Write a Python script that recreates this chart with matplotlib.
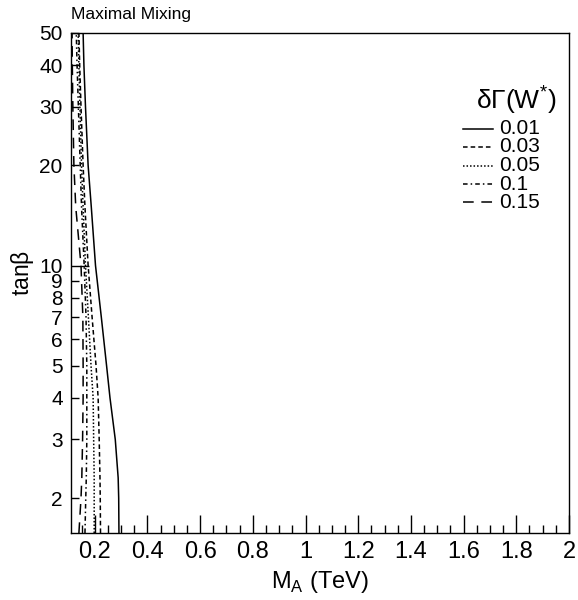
import matplotlib
matplotlib.use("Agg")
import matplotlib.pyplot as plt
from matplotlib.lines import Line2D
from matplotlib.ticker import FixedLocator, FixedFormatter

plt.rcParams['font.family'] = ['Liberation Sans', 'DejaVu Sans']

# tan(beta) grid shared by all contours
tanb = [1.57, 2.0, 2.3, 3.0, 4.0, 5.0, 7.0, 10.0, 15.0, 20.0, 30.0, 40.0, 50.0]

# M_A (TeV) contour positions for each delta Gamma(W*) value
ma_001 = [0.292, 0.291, 0.289, 0.278, 0.258, 0.245, 0.225, 0.203, 0.187, 0.175, 0.165, 0.159, 0.156]
ma_003 = [0.222, 0.221, 0.220, 0.217, 0.213, 0.205, 0.190, 0.175, 0.163, 0.156, 0.148, 0.143, 0.140]
ma_005 = [0.198, 0.198, 0.198, 0.196, 0.194, 0.186, 0.176, 0.165, 0.156, 0.150, 0.144, 0.140, 0.137]
ma_010 = [0.163, 0.166, 0.168, 0.170, 0.170, 0.170, 0.167, 0.160, 0.150, 0.145, 0.138, 0.133, 0.130]
ma_015 = [0.140, 0.148, 0.151, 0.154, 0.156, 0.156, 0.155, 0.148, 0.128, 0.121, 0.117, 0.115, 0.114]

labels = ["0.01", "0.03", "0.05", "0.1", "0.15"]
series = [ma_001, ma_003, ma_005, ma_010, ma_015]
styles = ['-', (0, (3, 2)), (0, (1, 1.3)), (0, (3, 2, 1, 2)), (0, (7, 5))]

xticks = [0.2, 0.4, 0.6, 0.8, 1.0, 1.2, 1.4, 1.6, 1.8, 2.0]
xticklabels = ["0.2", "0.4", "0.6", "0.8", "1", "1.2", "1.4", "1.6", "1.8", "2"]
yticks = [2, 3, 4, 5, 6, 7, 8, 9, 10, 20, 30, 40, 50]
yticklabels = [str(v) for v in yticks]

fig = plt.figure(figsize=(5.78, 6.0), dpi=100)
ax = fig.add_axes([71/578, 1-533/600, (569-71)/578, (533-33)/600])

for ma, ls in zip(series, styles):
    ax.plot(ma, tanb, color='black', lw=1.1, linestyle=ls)

ax.set_xlim(0.11, 2.0)
ax.set_yscale('log')
ax.set_ylim(1.57, 50)

ax.xaxis.set_major_locator(FixedLocator(xticks))
ax.xaxis.set_major_formatter(FixedFormatter(xticklabels))
minors = [0.15 + 0.05*i for i in range(38)]
ax.xaxis.set_minor_locator(FixedLocator([m for m in minors if all(abs(m-t) > 1e-6 for t in xticks)]))

ax.yaxis.set_major_locator(FixedLocator([10]))
ax.yaxis.set_minor_locator(FixedLocator([v for v in yticks if v != 10]))
ax.yaxis.set_major_formatter(FixedFormatter(["10"]))
ax.yaxis.set_minor_formatter(FixedFormatter([v for v in yticklabels if v != "10"]))

ax.tick_params(axis='both', which='both', direction='in', top=False, right=False, width=1)
ax.tick_params(axis='x', which='major', length=13, labelsize=17, pad=6)
ax.tick_params(axis='x', which='minor', length=6)
ax.tick_params(axis='y', which='major', length=13, labelsize=15, pad=6)
ax.tick_params(axis='y', which='minor', length=6, labelsize=15, pad=6)

for sp in ax.spines.values():
    sp.set_linewidth(1.0)

ax.set_xlabel(r"M$_\mathregular{A}$ (TeV)", fontsize=17, labelpad=4)
ax.set_ylabel(r"tan$\mathregular{\beta}$", fontsize=16.5)
ax.yaxis.set_label_coords(-0.07, 0.52)

fig.text(71/578, 1-14/600, "Maximal Mixing", fontsize=12.5, ha='left', va='center')

# legend drawn manually
fig.text(516/578, 1-101/600, r"$\mathregular{\delta\Gamma(W^{*})}$", fontsize=19, ha='center', va='center')
ys = [129, 147, 166, 184, 202]
for lab, ls, y in zip(labels, styles, ys):
    fig.add_artist(Line2D([463/578, 493/578], [1-y/600, 1-y/600], color='black', lw=1.1, linestyle=ls,
                          transform=fig.transFigure))
    fig.text(499/578, 1-y/600, lab, fontsize=15, ha='left', va='center')

fig.savefig("out.png", dpi=100)
